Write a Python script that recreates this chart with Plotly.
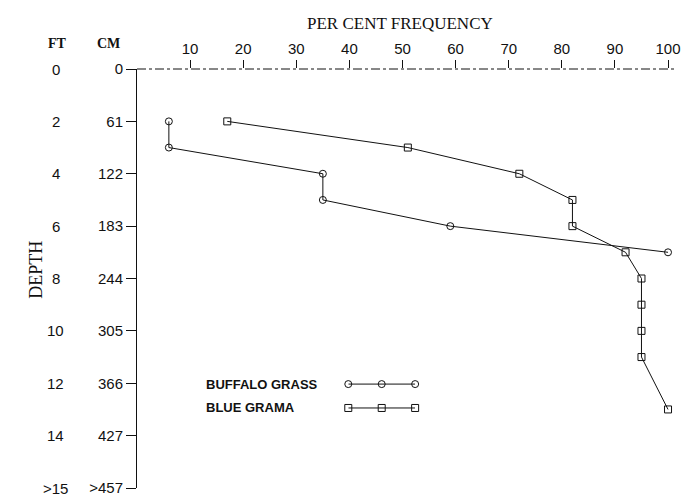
import plotly.graph_objects as go

# ---- data ----
depth_ticks_ft = [0, 2, 4, 6, 8, 10, 12, 14, 16]
ft_labels = ["0", "2", "4", "6", "8", "10", "12", "14", ">15"]
cm_labels = ["0", "61", "122", "183", "244", "305", "366", "427", ">457"]
freq_ticks = [10, 20, 30, 40, 50, 60, 70, 80, 90, 100]

buffalo_freq = [6, 6, 35, 35, 59, 100]
buffalo_depth = [2, 3, 4, 5, 6, 7]
blue_freq = [17, 51, 72, 82, 82, 92, 95, 95, 95, 95, 100]
blue_depth = [2, 3, 4, 5, 6, 7, 8, 9, 10, 11, 13]

legend_names = ["BUFFALO GRASS", "BLUE GRAMA"]
legend_symbols = ["circle-open", "square-open"]

INK = "#111111"
TICKFONT = dict(family="Liberation Sans", size=15, color=INK)
SERIF = "Liberation Serif"

fig = go.Figure()

fig.add_trace(go.Scatter(
    x=buffalo_freq, y=buffalo_depth, mode="lines+markers", name=legend_names[0],
    line=dict(color=INK, width=1),
    marker=dict(symbol=legend_symbols[0], size=7, color=INK, line=dict(width=1, color=INK)),
    cliponaxis=False, showlegend=False))
fig.add_trace(go.Scatter(
    x=blue_freq, y=blue_depth, mode="lines+markers", name=legend_names[1],
    line=dict(color=INK, width=1),
    marker=dict(symbol=legend_symbols[1], size=7, color=INK, line=dict(width=1, color=INK)),
    cliponaxis=False, showlegend=False))

# legend key samples on hidden axes
for i, (nm, sym) in enumerate(zip(legend_names, legend_symbols)):
    yk = 2 - i
    fig.add_trace(go.Scatter(
        x=[0, 1, 2], y=[yk] * 3, mode="lines+markers", xaxis="x2", yaxis="y2",
        line=dict(color=INK, width=1),
        marker=dict(symbol=sym, size=7, color=INK, line=dict(width=1, color=INK)),
        cliponaxis=False, showlegend=False, hoverinfo="skip"))
    fig.add_annotation(text="<b>" + nm + "</b>", xref="paper", yref="y2", x=0.125, y=yk,
                       xanchor="left", yanchor="middle", showarrow=False,
                       font=dict(family="Liberation Sans", size=13, color=INK))

# FT labels column
for v, t in zip(depth_ticks_ft, ft_labels):
    fig.add_annotation(text=t, xref="paper", yref="y", x=-0.151, y=v, xanchor="center",
                       yanchor="middle", showarrow=False, font=TICKFONT)

fig.add_annotation(text="<b>FT</b>", xref="paper", yref="paper", x=-0.147, y=1.061,
                   xanchor="center", yanchor="middle", showarrow=False,
                   font=dict(family=SERIF, size=14, color=INK))
fig.add_annotation(text="<b>CM</b>", xref="paper", yref="paper", x=-0.053, y=1.061,
                   xanchor="center", yanchor="middle", showarrow=False,
                   font=dict(family=SERIF, size=14, color=INK))
fig.add_annotation(text="DEPTH", xref="paper", yref="paper", x=-0.188, y=0.52,
                   xanchor="center", yanchor="middle", showarrow=False, textangle=-90,
                   font=dict(family=SERIF, size=18, color=INK))
fig.add_annotation(text="PER CENT FREQUENCY", xref="paper", yref="paper", x=0.488, y=1.108,
                   xanchor="center", yanchor="middle", showarrow=False,
                   font=dict(family=SERIF, size=17, color=INK))

# top axis line (broken, as in the print)
fig.add_shape(type="line", xref="paper", yref="paper", x0=0, x1=1, y0=1, y1=1,
              line=dict(color=INK, width=1, dash="dashdot"))

fig.update_layout(
    width=686, height=502,
    margin=dict(l=137, r=6, t=69, b=9),
    paper_bgcolor="white", plot_bgcolor="white",
    xaxis=dict(side="top", range=[0, 101.5], tickvals=freq_ticks, ticks="outside",
               ticklen=8, tickwidth=1, tickcolor=INK, showline=False, showgrid=False,
               zeroline=False, tickfont=TICKFONT),
    yaxis=dict(range=[16, 0], tickvals=depth_ticks_ft, ticktext=cm_labels, ticks="outside",
               ticklen=10, tickwidth=1, tickcolor=INK, showline=True, linecolor=INK,
               linewidth=1, showgrid=False, zeroline=False, tickfont=TICKFONT),
    xaxis2=dict(domain=[0.392, 0.516], range=[0, 2], visible=False, anchor="y2"),
    yaxis2=dict(domain=[0.134, 0.305], range=[0, 3], visible=False, anchor="x2"),
)

fig.write_html("out.html", config={"displayModeBar": False},
               post_script="document.body.style.margin='0';document.body.style.overflow='hidden';")
